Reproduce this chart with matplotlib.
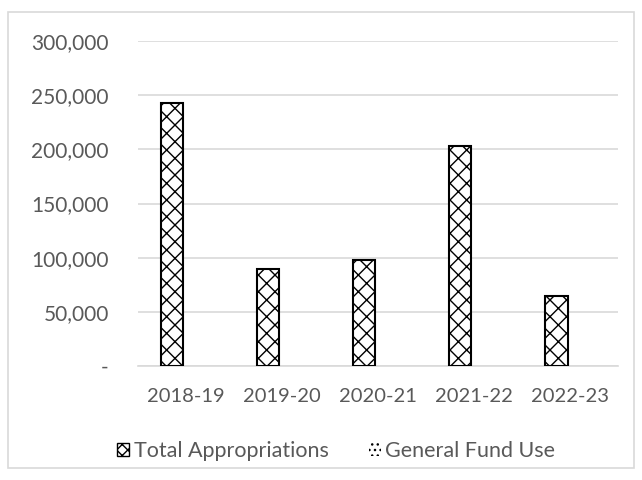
import matplotlib
matplotlib.use("Agg")
import matplotlib.pyplot as plt
from matplotlib.patches import Patch, Rectangle
from matplotlib.ticker import FuncFormatter
import numpy as np

years = ["2018-19", "2019-20", "2020-21", "2021-22", "2022-23"]
total_appropriations = [243000, 89500, 98000, 203000, 65000]
general_fund_use = [0, 0, 0, 0, 0]

plt.rcParams['font.family'] = ['Lato', 'DejaVu Sans']
text_color = '#595959'
grid_color = '#d9d9d9'

fig = plt.figure(figsize=(6.42, 4.8), dpi=100)
ax = fig.add_axes([0.215, 0.2375, 0.748, 0.677])

x = np.arange(len(years))
width = 0.235
ax.bar(x - width / 2 - 0.028, total_appropriations, width, color='white', edgecolor='black',
       linewidth=1.5, hatch='xx', zorder=3)
ax.bar(x + width / 2 - 0.028, general_fund_use, width, color='white', edgecolor='black',
       linewidth=0, hatch='...', zorder=3)

ax.set_xlim(-0.5, len(years) - 0.5)
ax.set_ylim(0, 300000)
ax.set_yticks(np.arange(0, 300001, 50000))
ax.yaxis.set_major_formatter(FuncFormatter(lambda v, p: '-' if v == 0 else f'{int(v):,}'))
ax.set_xticks(x)
ax.set_xticklabels(years)

ax.grid(axis='y', color=grid_color, linewidth=1.2, zorder=0)
for s in ['top', 'right', 'left']:
    ax.spines[s].set_visible(False)
ax.spines['bottom'].set_color(grid_color)
ax.spines['bottom'].set_linewidth(1.2)
ax.tick_params(axis='y', length=0, labelsize=15, colors=text_color, pad=21)
ax.tick_params(axis='x', length=0, labelsize=14.5, colors=text_color, pad=15.5)

handles = [
    Patch(facecolor='white', edgecolor='black', linewidth=1.0, hatch='xxx', label='Total Appropriations'),
    Patch(facecolor='white', edgecolor='black', linewidth=0, hatch='...', label='General Fund Use'),
]
fig.legend(handles=handles, loc='center', bbox_to_anchor=(0.524, 0.06), ncol=2, frameon=False,
           fontsize=15.5, labelcolor=text_color, handlelength=0.55, handleheight=0.55,
           handletextpad=0.2, columnspacing=1.9)

# light border around the whole chart area
fig.patches.append(Rectangle((8 / 642, 12 / 480), 626 / 642, 456 / 480, transform=fig.transFigure,
                             fill=False, edgecolor=grid_color, linewidth=1.2))

fig.savefig('out.png', dpi=100)
